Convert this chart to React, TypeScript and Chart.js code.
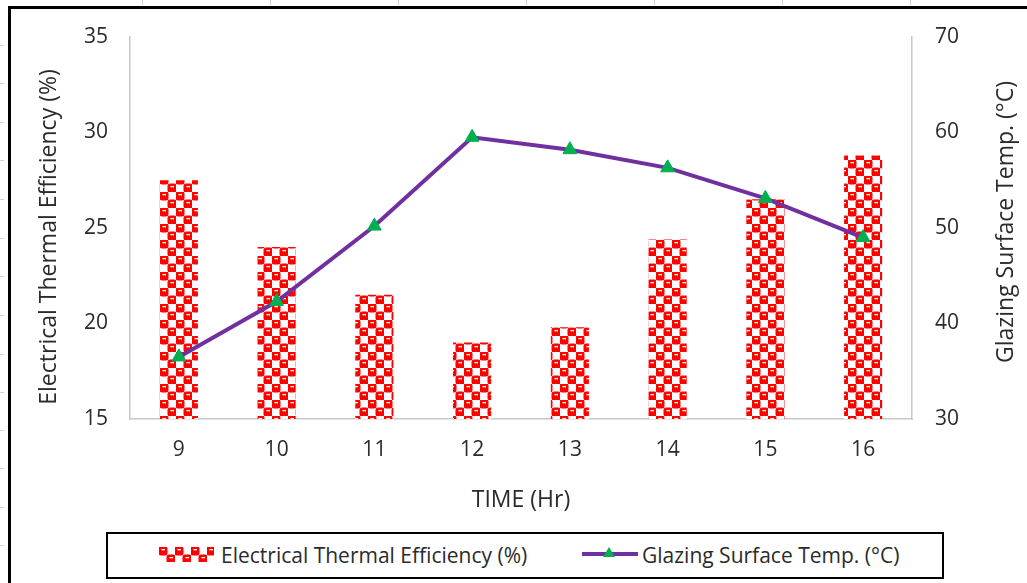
import React, { useEffect, useRef } from "react";
import { Chart, registerables } from "chart.js";
Chart.register(...registerables);

const categories = ["9", "10", "11", "12", "13", "14", "15", "16"];
const efficiency = [27.5, 24.0, 21.5, 19.0, 19.8, 24.4, 26.5, 28.8];
const glazingTemp = [36.5, 42.3, 50.2, 59.5, 58.2, 56.3, 53.1, 49.0];
const effLabel = "Electrical Thermal Efficiency (%)";
const tempLabel = "Glazing Surface Temp. (°C)";
const xTitle = "TIME (Hr)";

const FONT = "'Open Sans', 'Noto Sans', sans-serif";
const TEXT = "#2b2b2b";

function makeTile(): HTMLCanvasElement {
  const c = document.createElement("canvas");
  c.width = 16;
  c.height = 16;
  const g = c.getContext("2d")!;
  g.fillStyle = "#ffffff";
  g.fillRect(0, 0, 16, 16);
  g.fillStyle = "#ff0000";
  const cell = (x: number, y: number) => {
    g.beginPath();
    (g as any).roundRect(x - 0.5, y - 0.5, 9, 9, 2.5);
    g.fill();
  };
  cell(0, 0);
  cell(8, 8);
  cell(16, -8);
  cell(-8, 16);
  cell(16, 16);
  cell(-8, -8);
  g.fillStyle = "#ffffff";
  g.fillRect(2.5, 2, 3.5, 1.3);
  g.fillRect(10.5, 10, 3.5, 1.3);
  return c;
}

export default function App() {
  const ref = useRef<HTMLCanvasElement>(null);
  const swRef = useRef<HTMLCanvasElement>(null);

  useEffect(() => {
    const tile = makeTile();
    const ctx = ref.current!.getContext("2d")!;
    const pattern = ctx.createPattern(tile, "repeat")!;
    const sw = swRef.current!.getContext("2d")!;
    sw.fillStyle = sw.createPattern(tile, "repeat")!;
    sw.fillRect(0, 0, 55, 15);

    const tickFont = { family: FONT, size: 21 };
    const titleFont = { family: FONT, size: 23 };
    const border = { display: true, color: "#c8c8c8", width: 1.5 };

    const chart = new Chart(ctx, {
      type: "bar",
      data: {
        labels: categories,
        datasets: [
          {
            type: "line",
            label: tempLabel,
            data: glazingTemp,
            yAxisID: "y1",
            borderColor: "#7030A0",
            borderWidth: 4,
            pointStyle: "triangle",
            pointRadius: 8,
            pointBackgroundColor: "#00B050",
            pointBorderColor: "#00B050",
            pointBorderWidth: 1,
            tension: 0,
            order: 1,
          } as any,
          {
            type: "bar",
            label: effLabel,
            data: efficiency,
            yAxisID: "y",
            backgroundColor: pattern as any,
            barPercentage: 0.39,
            categoryPercentage: 1,
            order: 2,
          } as any,
        ],
      },
      options: {
        animation: false,
        responsive: false,
        maintainAspectRatio: false,
        layout: { padding: { top: 37, left: 0, right: 0, bottom: 0 } },
        plugins: { legend: { display: false }, tooltip: { enabled: false } },
        scales: {
          x: {
            grid: { display: false, drawTicks: false },
            border,
            ticks: { padding: 18, color: TEXT, font: tickFont },
            title: {
              display: true,
              text: xTitle,
              color: TEXT,
              font: titleFont,
              padding: { top: 0, bottom: 11 },
            },
            afterFit: (s: any) => {
              s.height = 106;
            },
          },
          y: {
            position: "left",
            min: 15,
            max: 35,
            grid: { display: false, drawTicks: false },
            border,
            ticks: { stepSize: 5, padding: 22, color: TEXT, font: tickFont },
            afterFit: (s: any) => {
              s.width = 130;
            },
          },
          y1: {
            position: "right",
            min: 30,
            max: 70,
            grid: { display: false, drawTicks: false },
            border,
            ticks: { stepSize: 10, padding: 23, color: TEXT, font: tickFont },
            afterFit: (s: any) => {
              s.width = 115;
            },
          },
        },
      } as any,
    });
    return () => chart.destroy();
  }, []);

  const marksLeft = [45, 83, 122, 160, 199, 238, 276, 315, 354, 392, 430, 468, 507, 545];
  const marksTop = [142, 270, 398, 526, 654, 782, 910];

  const vTitle = (text: string, cx: number, cy: number) => (
    <div
      style={{
        position: "absolute",
        left: cx - 200,
        top: cy - 15,
        width: 400,
        height: 30,
        lineHeight: "30px",
        textAlign: "center",
        fontSize: 23,
        color: TEXT,
        whiteSpace: "nowrap",
        transform: "rotate(-90deg)",
        transformOrigin: "50% 50%",
      }}
    >
      {text}
    </div>
  );

  return (
    <div
      style={{
        position: "fixed",
        left: 0,
        top: 0,
        width: 1027,
        height: 583,
        overflow: "hidden",
        background: "#ffffff",
        fontFamily: FONT,
      }}
    >
      {marksLeft.map((y) => (
        <div key={"l" + y} style={{ position: "absolute", left: 0, top: y, width: 4, height: 1, background: "#d4d4d4" }} />
      ))}
      {marksTop.map((x) => (
        <div key={"t" + x} style={{ position: "absolute", left: x, top: 0, width: 1, height: 5, background: "#d4d4d4" }} />
      ))}
      <div
        style={{
          position: "absolute",
          left: 8,
          top: 6,
          width: 1200,
          height: 800,
          border: "3px solid #000",
          boxSizing: "border-box",
        }}
      />
      <canvas
        ref={ref}
        width={1027}
        height={525}
        style={{ position: "absolute", left: 0, top: 0, width: 1027, height: 525 }}
      />
      {vTitle(effLabel, 47, 237)}
      {vTitle(tempLabel, 1004, 222)}
      <div
        style={{
          position: "absolute",
          left: 106,
          top: 532,
          width: 838,
          height: 47,
          border: "2.5px solid #000",
          boxSizing: "border-box",
        }}
      />
      <canvas
        ref={swRef}
        width={55}
        height={15}
        style={{ position: "absolute", left: 159, top: 547, width: 55, height: 15 }}
      />
      <div
        style={{
          position: "absolute",
          left: 221,
          top: 541,
          fontSize: 21,
          color: TEXT,
          whiteSpace: "nowrap",
          lineHeight: "28px",
        }}
      >
        {effLabel}
      </div>
      <svg style={{ position: "absolute", left: 582, top: 544, width: 56, height: 20 }} width={56} height={20}>
        <line x1={0} y1={10} x2={56} y2={10} stroke="#7030A0" strokeWidth={4} />
        <polygon points="27,3 33,13 21,13" fill="#00B050" />
      </svg>
      <div
        style={{
          position: "absolute",
          left: 642,
          top: 541,
          fontSize: 21,
          color: TEXT,
          whiteSpace: "nowrap",
          lineHeight: "28px",
        }}
      >
        {tempLabel}
      </div>
    </div>
  );
}
